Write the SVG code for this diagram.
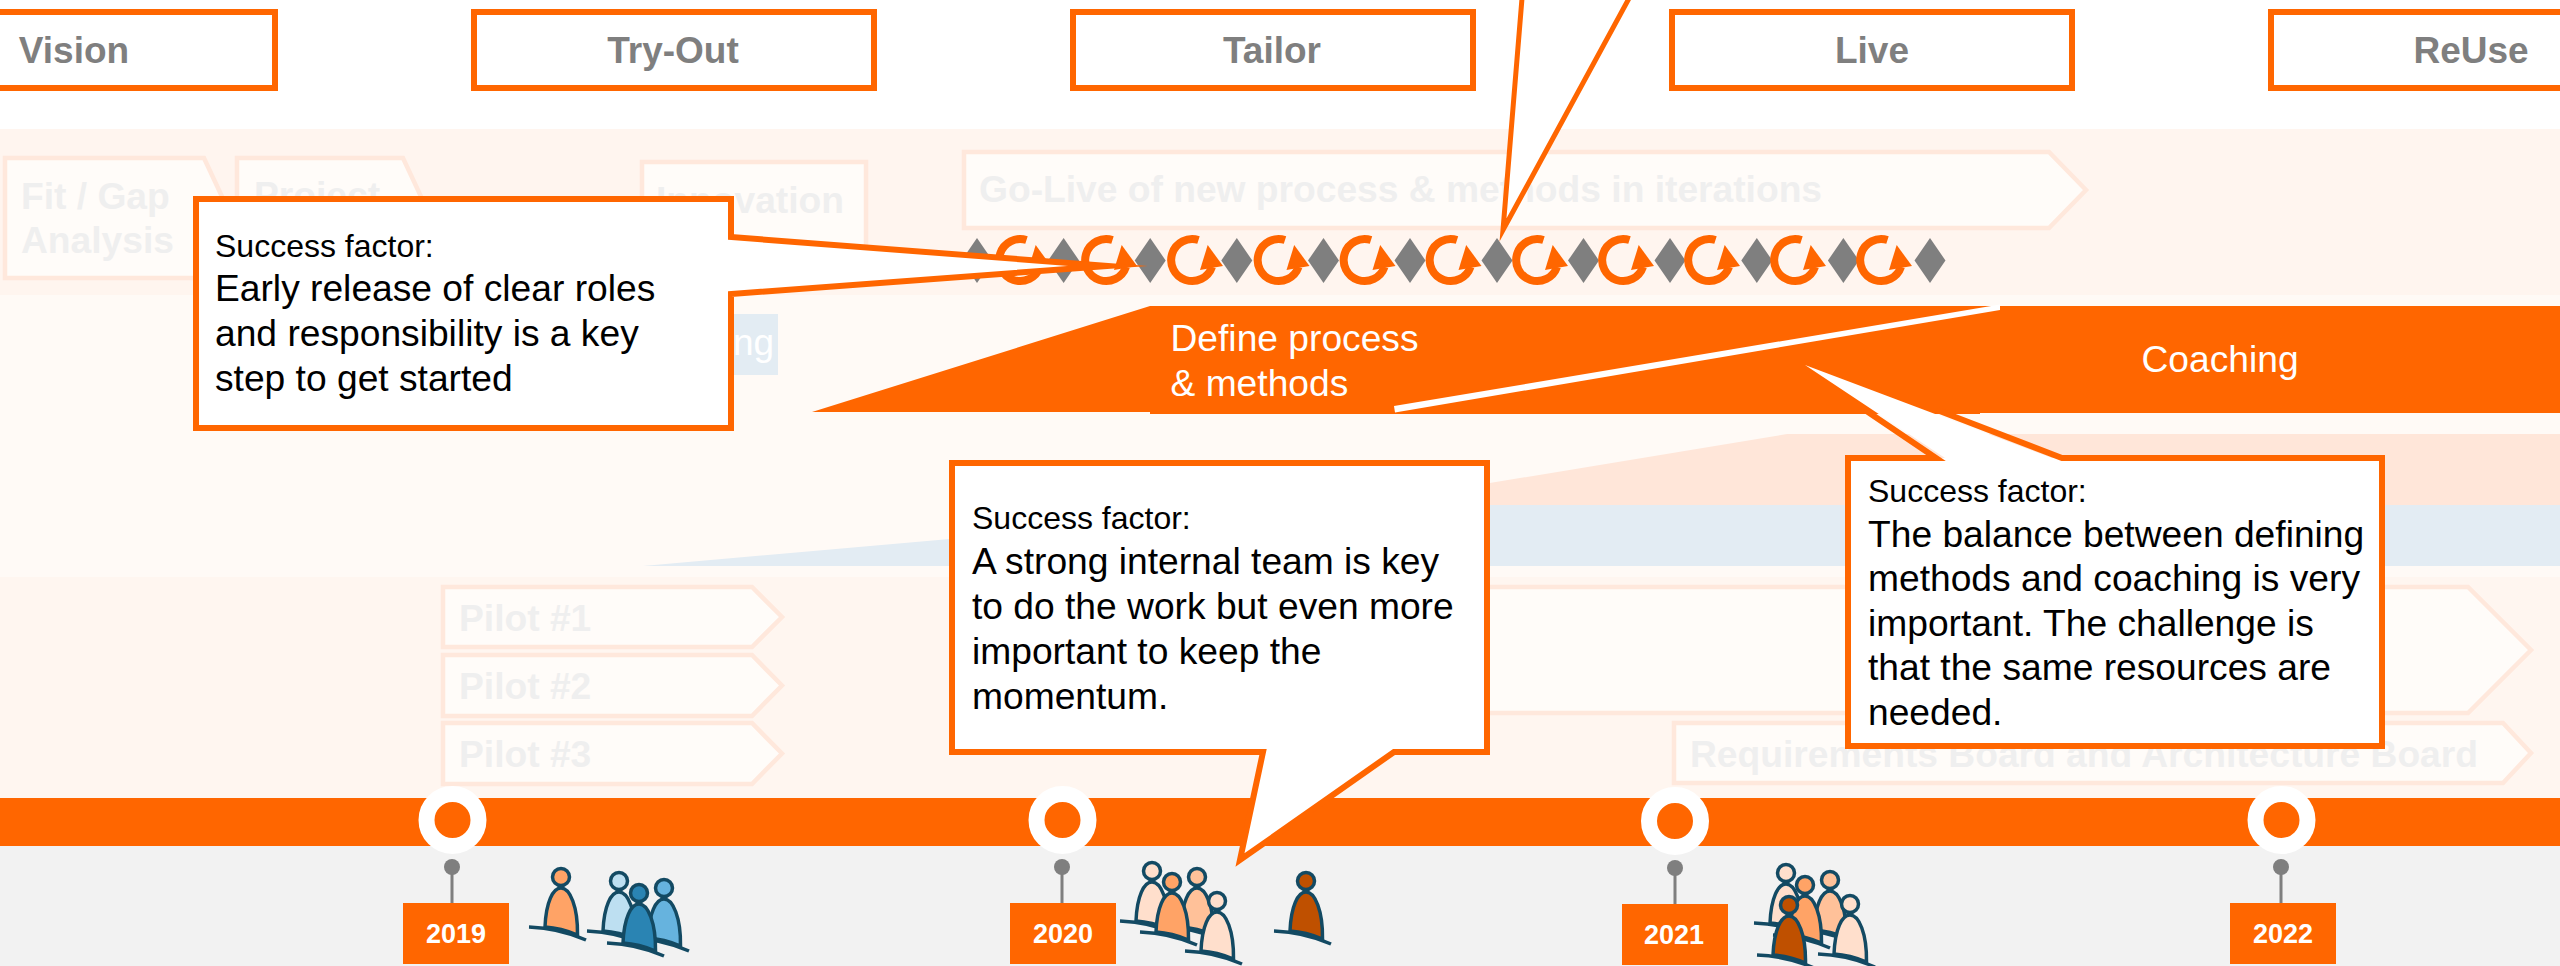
<svg xmlns="http://www.w3.org/2000/svg" width="2560" height="966" viewBox="0 0 2560 966">
<style>
text{font-family:"Liberation Sans",Arial,sans-serif}
.phase{fill:#fff;stroke:#f60;stroke-width:6}
.ph{font-size:37px;font-weight:700;fill:#7f7f7f;text-anchor:middle}
.fade{fill:#fffcf9;stroke:#ffe8dc;stroke-width:4.5}
.ft{font-size:37.2px;font-weight:700;fill:#efefef}
.wt{font-size:37.2px;fill:#fff}
.call{fill:#fff;stroke:#f60;stroke-width:6;stroke-miterlimit:30}
.edge{fill:none;stroke:#f60;stroke-width:6;stroke-miterlimit:30}
.s{font-size:32px;fill:#000}
.b{font-size:37.2px;fill:#000}
.yr{fill:#f60}
.yt{font-size:27px;font-weight:700;fill:#fff;text-anchor:middle}
.conn{stroke:#7f7f7f;stroke-width:3;fill:none}
.dot{fill:#7f7f7f}
.ring{fill:#f60;stroke:#fff;stroke-width:16}
.pline{stroke:#134a63;stroke-width:3.5}
.pale{fill:#ffdfcc}.org{fill:#ffa366}.mid{fill:#ffc199}.brn{fill:#bf5000}
.lb{fill:#bddff1}.mb{fill:#66b3de}.db{fill:#2a84b3}
</style>
<defs>
<g id="person">
<circle cx="0" cy="0" r="8.5" class="pline"/>
<path class="pline" d="M-16 50C-15 25-8 11 0 11C9 11 17 30 16.500 58Q0 51-16 50Z"/>
<path class="pline" fill="none" d="M-32 50Q-2 51 25 63"/>
</g>
<g id="cycle">
<path d="M6.500 -20A21 21 0 1 0 20 7" fill="none" stroke="#f60" stroke-width="8"/>
<path d="M15.700 -15L31 6L8 10Z" fill="#f60"/>
</g>
<path id="dia" d="M0 -22.500L15.500 0L0 22.500L-15.500 0Z" fill="#7f7f7f"/>
</defs>

<g id="background">
<rect width="2560" height="966" fill="#fff"/>
<rect y="129" width="2560" height="166" fill="#fff5ef"/>
<rect y="295" width="2560" height="282" fill="#fffaf6"/>
<rect y="577" width="2560" height="221" fill="#fff6f0"/>
<rect y="846" width="2560" height="120" fill="#f2f2f2"/>
<path d="M1787 434H2560V505H1357Z" fill="#ffe6d9"/>
<path d="M643 566L1336 505H2560V566Z" fill="#e3ecf3"/>
</g>

<g id="phase-vision"><rect class="phase" x="-125" y="12" width="400" height="76"/><text class="ph" x="74" y="63">Vision</text></g>
<g id="phase-tryout"><rect class="phase" x="474" y="12" width="400" height="76"/><text class="ph" x="673" y="63">Try-Out</text></g>
<g id="phase-tailor"><rect class="phase" x="1073" y="12" width="400" height="76"/><text class="ph" x="1272" y="63">Tailor</text></g>
<g id="phase-live"><rect class="phase" x="1672" y="12" width="400" height="76"/><text class="ph" x="1872" y="63">Live</text></g>
<g id="phase-reuse"><rect class="phase" x="2271" y="12" width="400" height="76"/><text class="ph" x="2471" y="63">ReUse</text></g>

<g id="fit-gap"><path class="fade" d="M5 158H204L232 218L204 278H5Z"/><text class="ft" x="21" y="209">Fit / Gap</text><text class="ft" x="21" y="253">Analysis</text></g>
<g id="project"><path class="fade" d="M237 158H403L431 218L403 278H237Z"/><text class="ft" x="254" y="208">Project</text></g>
<g id="innovation"><rect class="fade" x="642" y="162" width="224" height="116"/><text class="ft" x="656" y="213">Innovation</text></g>
<g id="training"><rect x="640" y="314" width="138" height="61" fill="#e3ecf3"/><text x="733" y="355" font-size="37" fill="#fff">ng</text></g>
<g id="go-live"><path class="fade" d="M964 152H2049L2086 190L2049 228H964Z"/><text class="ft" x="979" y="202">Go-Live of new process &amp; methods in iterations</text></g>

<g id="iterations">
<use href="#dia" x="977" y="260.500"/><use href="#dia" x="1063.600" y="260.500"/><use href="#dia" x="1150.200" y="260.500"/><use href="#dia" x="1236.800" y="260.500"/><use href="#dia" x="1323.500" y="260.500"/><use href="#dia" x="1410" y="260.500"/><use href="#dia" x="1497" y="260.500"/><use href="#dia" x="1583.500" y="260.500"/><use href="#dia" x="1670" y="260.500"/><use href="#dia" x="1756.800" y="260.500"/><use href="#dia" x="1843.400" y="260.500"/><use href="#dia" x="1930" y="260.500"/>
<use href="#cycle" x="1020" y="260"/><use href="#cycle" x="1106" y="260"/><use href="#cycle" x="1192" y="260"/><use href="#cycle" x="1278.500" y="260"/><use href="#cycle" x="1364.500" y="260"/><use href="#cycle" x="1450.500" y="260"/><use href="#cycle" x="1537" y="260"/><use href="#cycle" x="1623" y="260"/><use href="#cycle" x="1709" y="260"/><use href="#cycle" x="1795" y="260"/><use href="#cycle" x="1881" y="260"/>
</g>

<g id="define-coaching">
<path d="M812 412L1150 306H2560V413H1980V414H1150V412Z" fill="#f60"/>
<path d="M1394 406L2000 304.500V310L1395 412.500Z" fill="#fff"/>
<text class="wt" x="1170.500" y="351">Define process</text>
<text class="wt" x="1170.500" y="396">&amp; methods</text>
<text class="wt" x="2220" y="372" text-anchor="middle">Coaching</text>
</g>

<g id="pilot-1"><path class="fade" d="M443 587H752L782 617L752 647H443Z"/><text class="ft" x="459" y="631">Pilot #1</text></g>
<g id="pilot-2"><path class="fade" d="M443 655H752L782 685.500L752 716H443Z"/><text class="ft" x="459" y="699">Pilot #2</text></g>
<g id="pilot-3"><path class="fade" d="M443 723H752L782 753.500L752 784H443Z"/><text class="ft" x="459" y="767">Pilot #3</text></g>
<g id="rollout"><path class="fade" d="M1100 587H2468L2531 650L2468 713H1100Z"/></g>
<g id="boards"><path class="fade" d="M1674 723H2503L2531 753L2503 783H1674Z"/><text class="ft" x="1690" y="767">Requirements Board and Architecture Board</text></g>

<g id="timeline-bar"><rect y="798" width="2560" height="48" fill="#f60"/></g>

<g id="connectors">
<path class="conn" d="M452 867V903M1062 867V903M1675 868V904M2281 867V903"/>
</g>

<g id="y2019"><circle class="ring" cx="452.500" cy="820" r="26"/><circle class="dot" cx="452" cy="867" r="8"/><rect class="yr" x="403" y="903" width="106" height="61"/><text class="yt" x="456" y="943">2019</text></g>
<g id="y2020"><circle class="ring" cx="1062.500" cy="820" r="26"/><circle class="dot" cx="1062" cy="867" r="8"/><rect class="yr" x="1010" y="903" width="106" height="61"/><text class="yt" x="1063" y="943">2020</text></g>
<g id="y2021"><circle class="ring" cx="1675" cy="821" r="26"/><circle class="dot" cx="1675" cy="868" r="8"/><rect class="yr" x="1622" y="904" width="106" height="61"/><text class="yt" x="1674" y="944">2021</text></g>
<g id="y2022"><circle class="ring" cx="2281.500" cy="820" r="26"/><circle class="dot" cx="2281" cy="867" r="8"/><rect class="yr" x="2230" y="903" width="106" height="61"/><text class="yt" x="2283" y="943">2022</text></g>

<g id="team-2019">
<use href="#person" class="org" x="561" y="877"/><use href="#person" class="lb" x="619" y="881"/><use href="#person" class="mb" x="664" y="888"/><use href="#person" class="db" x="639" y="893"/>
</g>
<g id="team-2020">
<use href="#person" class="pale" x="1152" y="871"/><use href="#person" class="mid" x="1197" y="877"/><use href="#person" class="org" x="1172" y="882"/><use href="#person" class="pale" x="1217" y="901"/><use href="#person" class="brn" x="1306" y="881"/>
</g>
<g id="team-2021">
<use href="#person" class="pale" x="1786" y="873"/><use href="#person" class="mid" x="1830" y="880"/><use href="#person" class="org" x="1805" y="885"/><use href="#person" class="pale" x="1850" y="904"/><use href="#person" class="brn" x="1789" y="905"/>
</g>

<g id="callout-top"><path class="call" style="stroke-width:5" d="M1523.500 -20L1503 230L1639 -20Z"/></g>
<g id="callout-roles">
<path class="call" d="M196 199H731V237L1108 266L731 294V428H196Z"/>
<text class="s" x="215" y="257">Success factor:</text>
<text class="b" x="215" y="301">Early release of clear roles</text>
<text class="b" x="215" y="346">and responsibility is a key</text>
<text class="b" x="215" y="391">step to get started</text>
</g>
<g id="callout-balance">
<path d="M1848 458H1945L1805 365L2052 458H2382V746H1848Z" fill="#fff"/>
<path class="edge" d="M1865 410L1936 458H1848V746H2382V458H2062L1937 410"/>
<text class="s" x="1868" y="502">Success factor:</text>
<text class="b" x="1868" y="546.500">The balance between defining</text>
<text class="b" x="1868" y="591">methods and coaching is very</text>
<text class="b" x="1868" y="635.500">important. The challenge is</text>
<text class="b" x="1868" y="680">that the same resources are</text>
<text class="b" x="1868" y="724.500">needed.</text>
</g>
<g id="callout-team">
<path class="call" d="M952 463H1487V752H1394L1240 860L1263 752H952Z"/>
<text class="s" x="972" y="529">Success factor:</text>
<text class="b" x="972" y="573.500">A strong internal team is key</text>
<text class="b" x="972" y="618.500">to do the work but even more</text>
<text class="b" x="972" y="663.500">important to keep the</text>
<text class="b" x="972" y="708.500">momentum.</text>
</g>
</svg>
